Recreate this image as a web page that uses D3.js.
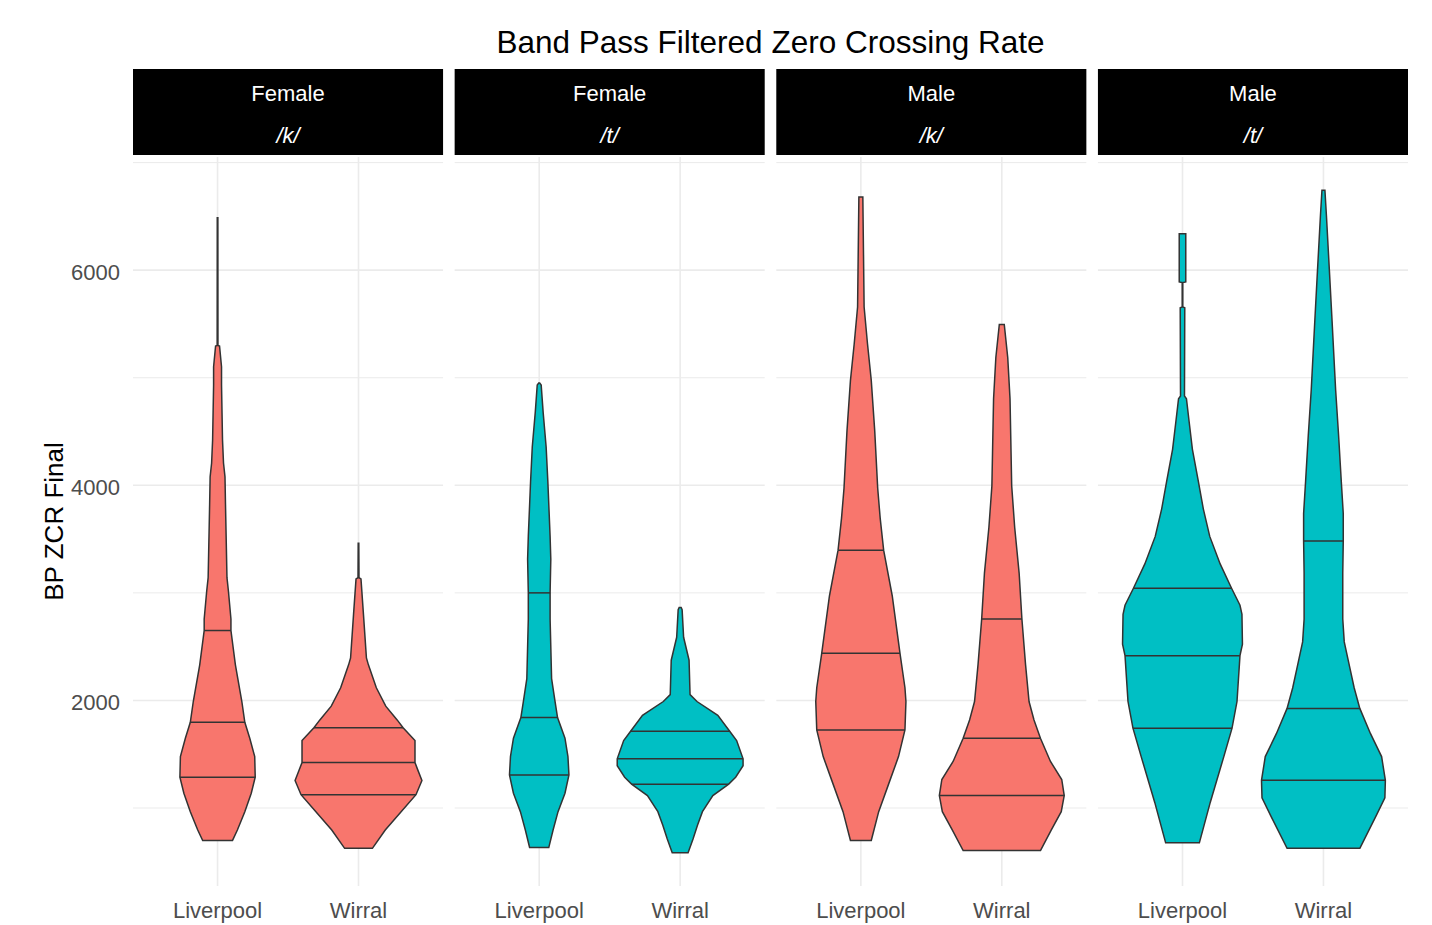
<!DOCTYPE html>
<html>
<head>
<meta charset="utf-8">
<script src="https://cdn.jsdelivr.net/npm/d3@7"></script>
<style>
  body { margin: 0; background: #ffffff; }
  text { font-family: "Liberation Sans", Arial, sans-serif; }
</style>
</head>
<body>
<svg id="chart" width="1432" height="925"></svg>
<script>
// Facets (gender x consonant) and the regions compared inside each facet
const facetGender = ["Female", "Female", "Male", "Male"];
const facetConsonant = ["/k/", "/t/", "/k/", "/t/"];
const regions = ["Liverpool", "Wirral"];
const consonantFill = { "/k/": "#F8766D", "/t/": "#00BFC4" };

const yMajorTicks = [2000, 4000, 6000];
const yMinorTicks = [1000, 3000, 5000, 7000];

// Density profiles: [BP ZCR value, relative density]
const femaleK_liverpool = [[697,15],[796,20],[966,27.5],[1137,34],[1286,38],[1478,37.5],[1649,32.5],[1797,27.5],[1990,24.5],[2331,18],[2650,13.5],[2757,13.5],[3013,11],[3141,9.5],[3823,8],[4079,7.5],[4207,6],[4420,5],[4932,4],[5102,4],[5294,2],[5300,0.4],[6488,0.3]];
const femaleK_wirral = [[625,14],[796,27],[966,43],[1124,58],[1256,64],[1350,60],[1423,57],[1627,57],[1747,45],[1819,39],[1947,27.5],[2118,18],[2331,10],[2395,8],[2800,5],[3130,2.5],[3141,0.5],[3461,0.3]];
const femaleT_liverpool = [[634,9.7],[796,14],[966,19],[1137,26],[1308,30],[1478,29],[1649,26],[1841,18.5],[1990,16],[2203,12.5],[2757,11],[3000,11],[3312,11.7],[3525,11],[4037,8.7],[4356,7],[4676,4],[4932,2],[4950,0.5]];
const femaleT_wirral = [[583,8],[711,13],[839,17.5],[966,22.5],[1116,33],[1222,49],[1286,56],[1393,63.5],[1457,63.5],[1627,57],[1713,50],[1862,38],[1990,17],[2054,10],[2374,9],[2587,3.5],[2843,2],[2864,1]];
const maleK_liverpool = [[698,10.5],[966,18],[1222,28],[1478,38],[1725,44.5],[1990,45.5],[2118,44.5],[2438,39.5],[2971,31.7],[3397,23],[3695,19.5],[3973,17],[4506,14],[4975,10.5],[5316,6.7],[5657,3.3],[6680,2]];
const maleK_wirral = [[604,39],[796,50],[966,60],[1116,63],[1265,60.5],[1435,49],[1649,39],[1819,32.5],[1990,27.5],[2331,24],[2757,20.3],[3184,17.5],[3610,13],[3994,10],[4804,8.3],[5188,6],[5495,2.5]];
const maleT_liverpool = [[676,17],[1052,28],[1478,41.7],[1742,50],[1990,55],[2416,58],[2523,60.5],[2800,60],[2885,58],[3043,49.5],[3269,38],[3525,27.5],[3781,21],[4037,16],[4335,10],[4591,6.7],[4804,4],[4830,2],[5650,2.3],[5657,0.3],[5885,0.3],[5891,3.3],[6339,3.3]];
const maleT_wirral = [[625,36.7],[924,53],[1094,62],[1257,62.5],[1478,58.7],[1691,47.5],[1926,36.7],[2118,31],[2331,26],[2544,21],[2757,19.5],[3184,19.5],[3482,20],[3738,20],[4037,18],[4463,15.3],[4889,12.3],[5529,8.7],[5998,6],[6510,3],[6744,1.5]];

// Quartiles (25%, 50%, 75%) drawn across each violin
const femaleK_liverpoolQ = [1286, 1797, 2650];
const femaleK_wirralQ = [1124, 1423, 1747];
const femaleT_liverpoolQ = [1308, 1841, 3000];
const femaleT_wirralQ = [1222, 1457, 1713];
const maleK_liverpoolQ = [1725, 2438, 3397];
const maleK_wirralQ = [1116, 1649, 2757];
const maleT_liverpoolQ = [1742, 2416, 3043];
const maleT_wirralQ = [1257, 1926, 3482];

const violins = [
  { facet: 0, region: 0, profile: femaleK_liverpool, q: femaleK_liverpoolQ },
  { facet: 0, region: 1, profile: femaleK_wirral, q: femaleK_wirralQ },
  { facet: 1, region: 0, profile: femaleT_liverpool, q: femaleT_liverpoolQ },
  { facet: 1, region: 1, profile: femaleT_wirral, q: femaleT_wirralQ },
  { facet: 2, region: 0, profile: maleK_liverpool, q: maleK_liverpoolQ },
  { facet: 2, region: 1, profile: maleK_wirral, q: maleK_wirralQ },
  { facet: 3, region: 0, profile: maleT_liverpool, q: maleT_liverpoolQ },
  { facet: 3, region: 1, profile: maleT_wirral, q: maleT_wirralQ }
];
violins.forEach(v => v.profile = v.profile.slice().sort((a, b) => a[0] - b[0]));

// Layout
const panelLeft = 133, panelRight = 1408, panelTop = 157, panelBottom = 886;
const stripTop = 69, stripBottom = 155;

const svg = d3.select("#chart");

const allValues = violins.flatMap(v => v.profile.map(p => p[0]));
const vMin = d3.min(allValues), vMax = d3.max(allValues);
const pad = (vMax - vMin) * 0.05;
const y = d3.scaleLinear().domain([vMin - pad, vMax + pad]).range([panelBottom, panelTop]);

const facetX = d3.scaleBand().domain(d3.range(4)).range([panelLeft, panelRight]).paddingInner(0.036);
const regionX = d3.scalePoint().domain(regions).range([0, facetX.bandwidth()]).padding(0.6);
const maxDensity = d3.max(violins.flatMap(v => v.profile.map(p => p[1])));
const halfWidth = d3.scaleLinear().domain([0, maxDensity]).range([0, regionX.step() * 0.45]);

// Title
svg.append("text")
  .attr("x", (panelLeft + panelRight) / 2).attr("y", 53)
  .attr("text-anchor", "middle").attr("font-size", 31.5).attr("fill", "#000")
  .text("Band Pass Filtered Zero Crossing Rate");

// Y axis title
svg.append("text")
  .attr("transform", `translate(63,${(panelTop + panelBottom) / 2}) rotate(-90)`)
  .attr("text-anchor", "middle").attr("font-size", 26).attr("fill", "#000")
  .text("BP ZCR Final");

// Y tick labels
svg.selectAll(".ytick").data(yMajorTicks).join("text")
  .attr("class", "ytick")
  .attr("x", 120).attr("y", d => y(d)).attr("dy", "0.44em")
  .attr("text-anchor", "end").attr("font-size", 22).attr("fill", "#4D4D4D")
  .text(d => d);

const facets = svg.selectAll(".facet").data(d3.range(4)).join("g")
  .attr("class", "facet")
  .attr("transform", d => `translate(${facetX(d)},0)`);

const bw = facetX.bandwidth();

// Grid lines
facets.each(function () {
  const g = d3.select(this);
  g.selectAll(".minor").data(yMinorTicks.filter(t => y(t) >= panelTop)).join("line")
    .attr("x1", 0).attr("x2", bw).attr("y1", d => y(d)).attr("y2", d => y(d))
    .attr("stroke", "#EBEBEB").attr("stroke-width", 1);
  g.selectAll(".major").data(yMajorTicks).join("line")
    .attr("x1", 0).attr("x2", bw).attr("y1", d => y(d)).attr("y2", d => y(d))
    .attr("stroke", "#EBEBEB").attr("stroke-width", 1.6);
  g.selectAll(".vgrid").data(regions).join("line")
    .attr("x1", d => regionX(d)).attr("x2", d => regionX(d))
    .attr("y1", panelTop).attr("y2", panelBottom)
    .attr("stroke", "#EBEBEB").attr("stroke-width", 1.6);
});

// Strips
facets.append("rect")
  .attr("x", 0).attr("y", stripTop).attr("width", bw).attr("height", stripBottom - stripTop)
  .attr("fill", "#000");
facets.append("text")
  .attr("x", bw / 2).attr("y", 100.5).attr("text-anchor", "middle")
  .attr("font-size", 22).attr("fill", "#fff")
  .text(d => facetGender[d]);
facets.append("text")
  .attr("x", bw / 2).attr("y", 143).attr("text-anchor", "middle")
  .attr("font-size", 22).attr("font-style", "italic").attr("fill", "#fff")
  .text(d => facetConsonant[d]);

// X tick labels
facets.selectAll(".xtick").data(regions).join("text")
  .attr("class", "xtick")
  .attr("x", d => regionX(d)).attr("y", 918)
  .attr("text-anchor", "middle").attr("font-size", 22).attr("fill", "#4D4D4D")
  .text(d => d);

// Violins
function widthAt(profile, value) {
  const i = d3.bisector(p => p[0]).left(profile, value);
  if (i <= 0) return profile[0][1];
  if (i >= profile.length) return profile[profile.length - 1][1];
  const a = profile[i - 1], b = profile[i];
  const t = (value - a[0]) / (b[0] - a[0]);
  return a[1] + t * (b[1] - a[1]);
}

violins.forEach(v => {
  const g = facets.filter(d => d === v.facet);
  const cx = regionX(regions[v.region]);
  const fill = consonantFill[facetConsonant[v.facet]];
  const area = d3.area()
    .y(p => y(p[0]))
    .x0(p => cx - halfWidth(p[1]))
    .x1(p => cx + halfWidth(p[1]))
    .curve(d3.curveLinear);
  g.append("path")
    .datum(v.profile)
    .attr("d", area)
    .attr("fill", fill)
    .attr("stroke", "#333333")
    .attr("stroke-width", 1.5)
    .attr("stroke-linejoin", "miter");
  g.selectAll(null).data(v.q).join("line")
    .attr("x1", q => cx - halfWidth(widthAt(v.profile, q)))
    .attr("x2", q => cx + halfWidth(widthAt(v.profile, q)))
    .attr("y1", q => y(q)).attr("y2", q => y(q))
    .attr("stroke", "#333333").attr("stroke-width", 1.5);
});
</script>
</body>
</html>
